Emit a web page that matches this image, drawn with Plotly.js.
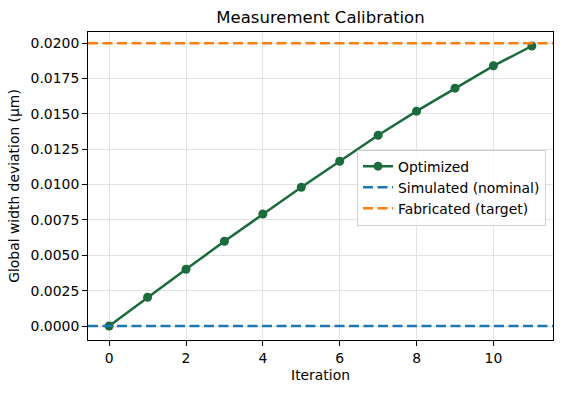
<!DOCTYPE html>
<html>
<head>
<meta charset="utf-8">
<script src="https://cdn.plot.ly/plotly-3.0.1.min.js"></script>
<style>html,body{margin:0;padding:0;background:#fff;}#chart{width:562px;height:393px;}</style>
</head>
<body>
<div id="chart"></div>
<script>
const iterations = [0, 1, 2, 3, 4, 5, 6, 7, 8, 9, 10, 11];
const deviation = [0, 0.00203, 0.00401, 0.00599, 0.00792, 0.00981, 0.01165, 0.01349, 0.01519, 0.01682, 0.0184, 0.0198];
const simulatedNominal = 0.0;
const fabricatedTarget = 0.02;
const yTicks = [0, 0.0025, 0.005, 0.0075, 0.01, 0.0125, 0.015, 0.0175, 0.02];
const xTicks = [0, 2, 4, 6, 8, 10];

const font = {family: 'DejaVu Sans, sans-serif', size: 13.9, color: '#000'};

const traces = [{
  x: iterations, y: deviation, mode: 'lines+markers', name: 'Optimized',
  line: {color: '#1b6b3c', width: 2.5},
  marker: {color: '#1b6b3c', size: 9}
}];

const shapes = [
  {type: 'line', xref: 'paper', x0: 0, x1: 1, yref: 'y', y0: simulatedNominal, y1: simulatedNominal,
   line: {color: '#1f77b4', width: 2.5, dash: '10px,4.5px'}, showlegend: true, name: 'Simulated (nominal)'},
  {type: 'line', xref: 'paper', x0: 0, x1: 1, yref: 'y', y0: fabricatedTarget, y1: fabricatedTarget,
   line: {color: '#ff7f0e', width: 2.5, dash: '10px,4.5px'}, showlegend: true, name: 'Fabricated (target)'}
];

const layout = {
  width: 562, height: 393,
  margin: {l: 88, r: 9, t: 32, b: 53},
  paper_bgcolor: '#fff', plot_bgcolor: '#fff',
  font: font,
  title: {text: 'Measurement Calibration', font: {family: 'DejaVu Sans, sans-serif', size: 16.5, color: '#000'}, x: 0.5, xanchor: 'center', y: 0.955, yanchor: 'middle', xref: 'paper'},
  xaxis: {
    range: [-0.55, 11.55], tickvals: xTicks, ticktext: xTicks.map(String),
    showgrid: true, gridcolor: '#e3e3e3', gridwidth: 1, zeroline: false,
    showline: true, linecolor: '#000', linewidth: 1, mirror: true,
    ticks: 'outside', ticklen: 5, tickcolor: '#000',
    title: {text: 'Iteration', font: font, standoff: 5}
  },
  yaxis: {
    range: [-0.00099, 0.02079], tickvals: yTicks, ticktext: yTicks.map(v => v.toFixed(4)),
    showgrid: true, gridcolor: '#e3e3e3', gridwidth: 1, zeroline: false,
    showline: true, linecolor: '#000', linewidth: 1, mirror: true,
    ticks: 'outside', ticklen: 5, tickcolor: '#000',
    title: {text: 'Global width deviation (µm)', font: font, standoff: 7}
  },
  shapes: shapes,
  showlegend: true,
  legend: {
    x: 0.985, xanchor: 'right', y: 0.618, yanchor: 'top',
    bgcolor: 'rgba(255,255,255,0.8)', bordercolor: '#d0d0d0', borderwidth: 1,
    font: font, tracegroupgap: 0
  }
};

Plotly.newPlot('chart', traces, layout, {displayModeBar: false, staticPlot: true});
</script>
</body>
</html>
